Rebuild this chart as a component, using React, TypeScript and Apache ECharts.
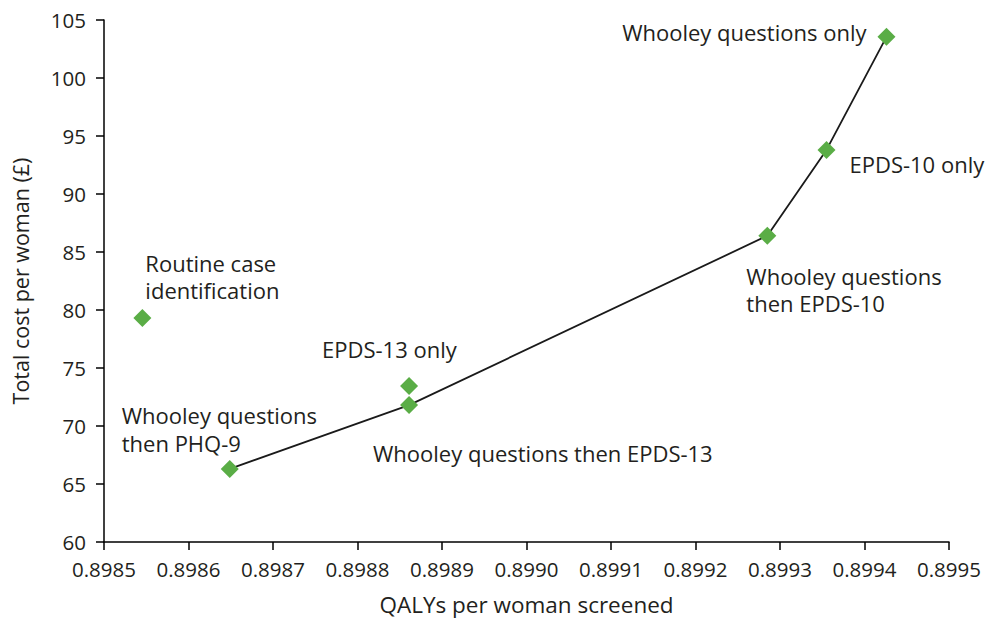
import React, { useEffect, useRef } from "react";
import * as echarts from "echarts";

const frontierNames = [
  "Whooley questions\nthen PHQ-9",
  "Whooley questions then EPDS-13",
  "Whooley questions\nthen EPDS-10",
  "EPDS-10 only",
  "Whooley questions only",
];
const frontierQaly = [0.8986488, 0.898861, 0.899285, 0.899355, 0.899426];
const frontierCost = [66.3, 71.8, 86.4, 93.8, 103.55];

const otherNames = ["Routine case\nidentification", "EPDS-13 only"];
const otherQaly = [0.8985454, 0.898861];
const otherCost = [79.3, 73.45];

const xTicks = { min: 0.8985, max: 0.8995, step: 0.0001 };
const yTicks = { min: 60, max: 105, step: 5 };

const frontierLabelStyle = [
  { align: "left", offset: [-108, -40], lh: 28 },
  { align: "left", offset: [-36, 48], lh: 27 },
  { align: "left", offset: [-21, 54], lh: 27 },
  { align: "left", offset: [23, 14], lh: 27 },
  { align: "right", offset: [-20, -5], lh: 27 },
];
const otherLabelStyle = [
  { align: "left", offset: [3, -42], lh: 27 },
  { align: "left", offset: [-87, -37], lh: 27 },
];

const FONT = "'Open Sans', sans-serif";
const TEXT = "#231f20";
const GREEN = "#5aad46";

export default function App() {
  const ref = useRef<HTMLDivElement>(null);
  useEffect(() => {
    if (!ref.current) return;
    const chart = echarts.init(ref.current, undefined, { renderer: "svg" });
    const mkLabel = (s: any) => ({
      show: true,
      position: "inside",
      align: s.align,
      verticalAlign: "middle",
      offset: s.offset,
      formatter: "{b}",
      color: TEXT,
      fontSize: 22,
      lineHeight: s.lh,
      fontFamily: FONT,
      opacity: 1,
    });
    chart.setOption({
      animation: false,
      backgroundColor: "#ffffff",
      grid: { left: 104, right: 43, top: 20, bottom: 79, containLabel: false },
      xAxis: {
        type: "value",
        min: xTicks.min,
        max: xTicks.max,
        interval: xTicks.step,
        name: "QALYs per woman screened",
        nameLocation: "middle",
        nameGap: 51,
        nameTextStyle: { color: TEXT, fontSize: 22.5, fontFamily: FONT },
        axisLine: { show: true, lineStyle: { color: "#000", width: 1.5 } },
        axisTick: { show: true, length: 8, lineStyle: { color: "#000", width: 1.5 } },
        axisLabel: {
          color: TEXT,
          fontSize: 20.5,
          fontFamily: FONT,
          margin: 16,
          formatter: (v: number) => v.toFixed(4),
        },
        splitLine: { show: false },
      },
      yAxis: {
        type: "value",
        min: yTicks.min,
        max: yTicks.max,
        interval: yTicks.step,
        name: "Total cost per woman (£)",
        nameLocation: "middle",
        nameGap: 73,
        nameTextStyle: { color: TEXT, fontSize: 21.5, fontFamily: FONT },
        axisLine: { show: true, lineStyle: { color: "#000", width: 1.5 } },
        axisTick: { show: true, length: 8, lineStyle: { color: "#000", width: 1.5 } },
        axisLabel: { color: TEXT, fontSize: 20.5, fontFamily: FONT, margin: 18 },
        splitLine: { show: false },
      },
      series: [
        {
          type: "line",
          symbol: "diamond",
          symbolSize: 18,
          lineStyle: { color: "#1a1a1a", width: 1.8 },
          itemStyle: { color: GREEN, opacity: 1 },
          z: 3,
          data: frontierNames.map((n, i) => ({
            name: n,
            value: [frontierQaly[i], frontierCost[i]],
            label: mkLabel(frontierLabelStyle[i]),
          })),
        },
        {
          type: "scatter",
          symbol: "diamond",
          symbolSize: 18,
          itemStyle: { color: GREEN, opacity: 1 },
          z: 4,
          data: otherNames.map((n, i) => ({
            name: n,
            value: [otherQaly[i], otherCost[i]],
            label: mkLabel(otherLabelStyle[i]),
          })),
        },
      ],
    });
    return () => chart.dispose();
  }, []);
  return (
    <div
      ref={ref}
      style={{ position: "absolute", left: 0, top: 0, width: 992, height: 621 }}
    />
  );
}
